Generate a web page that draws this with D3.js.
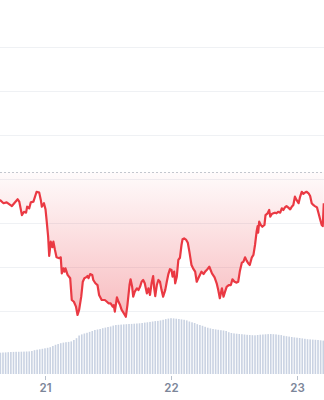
<!DOCTYPE html>
<html>
<head>
<meta charset="utf-8">
<script src="https://cdn.jsdelivr.net/npm/d3@7"></script>
<style>
  body { margin: 0; background: #fff; }
  svg { display: block; }
</style>
</head>
<body>
<script>
// price points, time in hours after midnight on the 21st
var priceHours = [-8.6, -7.9, -7.3, -6.3, -5.7, -5.2, -4.9, -4.4, -4.0, -3.6, -3.4, -3.0, -2.7, -2.2, -1.6, -1.1, -0.8, -0.6, -0.2,
  0.1, 0.3, 0.6, 0.8, 1.1, 1.4, 1.6, 1.9, 2.2, 2.7, 3.0, 3.2, 3.5, 3.7, 3.9, 4.3, 4.8, 5.1, 5.5, 5.9, 6.2, 6.5, 6.9, 7.2, 7.5, 7.8,
  8.1, 8.3, 8.6, 9.0, 9.2, 9.6, 10.0, 10.3, 10.8, 11.4, 11.8, 12.1, 12.5, 12.9, 13.1, 13.3, 13.7, 14.0, 14.3, 14.6, 15.0, 15.4,
  15.7, 16.1, 16.3, 16.6, 16.8, 17.1, 17.5, 17.8, 18.1, 18.4, 18.7, 19.0, 19.4, 19.7, 20.0, 20.3, 20.6, 20.8, 21.0, 21.3, 21.6,
  21.9, 22.2, 22.5, 22.9, 23.2, 23.5, 23.8, 24.1, 24.3, 24.6, 24.8, 25.1, 25.4, 25.7, 26.0, 26.2, 26.5, 26.9, 27.2, 27.5, 27.9,
  28.2, 28.6, 28.9, 29.2, 29.5, 29.8, 30.2, 30.5, 30.8, 31.3, 31.8, 32.3, 32.7, 33.0, 33.3, 33.7, 34.0, 34.3, 34.6, 35.0, 35.4,
  35.7, 36.1, 36.5, 36.8, 37.1, 37.5, 37.8, 38.1, 38.4, 38.7, 39.0, 39.4, 39.7, 40.0, 40.3, 40.5, 40.6, 40.8, 41.1, 41.4, 41.8,
  42.0, 42.4, 42.7, 42.9, 43.2, 43.5, 43.8, 44.1, 44.4, 44.8, 45.1, 45.4, 45.7, 46.0, 46.3, 46.7, 47.0, 47.3, 47.6, 47.9, 48.3,
  48.6, 48.9, 49.2, 49.5, 49.8, 50.2, 50.5, 50.8, 51.1, 51.4, 51.8, 52.1, 52.4, 52.7, 52.9, 53.1];
var prices = [99.05, 98.90, 98.94, 98.77, 98.94, 99.08, 98.97, 98.36, 98.51, 98.47, 98.74, 98.67, 98.94, 98.97, 99.42, 99.38, 99.05, 98.74, 98.90,
  98.62, 98.14, 97.38, 96.50, 97.15, 96.90, 97.15, 96.77, 96.44, 96.40, 96.44, 95.71, 95.94, 95.79, 95.94, 95.64, 95.49, 94.50, 94.42, 94.20, 93.82, 94.05, 94.65, 95.33, 95.49, 95.53,
  95.59, 95.49, 95.68, 95.64, 95.41, 95.26, 95.18, 94.73, 94.50, 94.50, 94.42, 94.35, 94.35, 94.20, 94.27, 93.97, 94.62, 94.42, 94.27, 94.05, 93.90, 93.74,
  94.27, 95.18, 95.44, 95.10, 94.65, 94.88, 95.03, 94.95, 95.10, 95.33, 95.41, 95.26, 94.80, 95.03, 94.73, 95.26, 95.59, 95.03, 94.68, 95.18, 95.41,
  95.33, 94.95, 94.65, 94.95, 95.33, 95.68, 95.90, 95.86, 95.56, 95.79, 95.26, 95.56, 96.32, 96.42, 97.00, 97.26, 97.30, 97.23, 97.10, 96.70, 96.09,
  95.94, 95.79, 95.33, 95.49, 95.64, 95.79, 95.68, 95.79, 95.86, 96.01, 95.71, 95.53, 95.26, 94.95, 94.58, 95.03, 94.65, 94.88, 95.10, 95.18, 95.18,
  95.44, 95.33, 95.29, 95.33, 95.79, 96.20, 96.24, 96.44, 96.29, 96.17, 96.09, 96.44, 96.55, 97.00, 97.60, 97.86, 97.56, 98.06, 97.91, 97.83, 97.91,
  98.36, 98.44, 98.59, 98.29, 98.41, 98.44, 98.47, 98.44, 98.51, 98.47, 98.67, 98.59, 98.71, 98.77, 98.71, 98.62, 98.74, 98.82, 99.20, 99.05, 98.90,
  99.20, 99.42, 99.32, 99.38, 99.42, 99.35, 99.23, 98.90, 98.82, 98.77, 98.71, 98.44, 98.17, 97.91, 97.86, 98.90];
var openPrice = 100.32; // dotted reference line

// volume, one bar every half hour starting at volStartHour
var volStartHour = -8.5;
var volumes = [2.13, 2.15, 2.16, 2.18, 2.20, 2.21, 2.22, 2.22, 2.23, 2.24, 2.25, 2.26, 2.30, 2.38, 2.43, 2.47,
  2.52, 2.57, 2.62, 2.68, 2.80, 2.92, 3.00, 3.08, 3.14, 3.18, 3.21, 3.26, 3.40, 3.58, 3.85, 3.96,
  4.05, 4.12, 4.21, 4.30, 4.40, 4.45, 4.50, 4.58, 4.64, 4.70, 4.75, 4.84, 4.90, 4.92, 4.94, 4.96,
  4.98, 5.00, 5.01, 5.03, 5.05, 5.07, 5.10, 5.14, 5.17, 5.21, 5.25, 5.29, 5.31, 5.36, 5.42, 5.49,
  5.54, 5.58, 5.56, 5.53, 5.50, 5.46, 5.42, 5.36, 5.25, 5.17, 5.10, 4.98, 4.90, 4.82, 4.72, 4.63,
  4.56, 4.50, 4.46, 4.42, 4.38, 4.35, 4.30, 4.18, 4.10, 4.06, 4.03, 4.00, 3.98, 3.95, 3.92, 3.90,
  3.88, 3.87, 3.90, 3.93, 3.95, 3.97, 3.99, 4.00, 3.98, 3.96, 3.92, 3.89, 3.82, 3.78, 3.74, 3.70,
  3.66, 3.63, 3.60, 3.56, 3.52, 3.48, 3.46, 3.44, 3.42, 3.40, 3.37, 3.34];

var priceTicks = [94, 96, 98, 100, 102, 104, 106];
var dayLabels = ["21", "22", "23"];
var viewHours = [-8.57, 53.14]; // visible time window

var width = 324, height = 400;
var day0 = new Date(2024, 2, 21);
function atHour(h) { return new Date(day0.getTime() + h * 3600e3); }

var x = d3.scaleTime()
    .domain(viewHours.map(atHour))
    .range([0, width]);

var y = d3.scaleLinear()
    .domain([94, 106])
    .range([311, 47]);

var yVol = d3.scaleLinear()
    .domain([0, 6])
    .range([374, 314]);

var svg = d3.select("body").append("svg")
    .attr("width", width)
    .attr("height", height);

// gradient for the red area, stronger further from the open line
var grad = svg.append("defs").append("linearGradient")
    .attr("id", "redFill")
    .attr("gradientUnits", "userSpaceOnUse")
    .attr("x1", 0).attr("x2", 0)
    .attr("y1", y(openPrice)).attr("y2", y(93.8));
grad.append("stop").attr("offset", 0).attr("stop-color", "#ea3943").attr("stop-opacity", 0.02);
grad.append("stop").attr("offset", 1).attr("stop-color", "#ea3943").attr("stop-opacity", 0.34);

// grid
svg.append("g").selectAll("line").data(priceTicks).enter().append("line")
    .attr("x1", 0).attr("x2", width)
    .attr("y1", function(d) { return Math.round(y(d)) + 0.5; })
    .attr("y2", function(d) { return Math.round(y(d)) + 0.5; })
    .attr("stroke", "#eff1f4");

// volume bars
var volData = volumes.map(function(v, i) { return { t: atHour(volStartHour + i * 0.5), v: v }; });
svg.append("g").selectAll("rect").data(volData).enter().append("rect")
    .attr("x", function(d) { return x(d.t) - 0.8; })
    .attr("width", 1.6)
    .attr("y", function(d) { return yVol(d.v); })
    .attr("height", function(d) { return yVol(0) - yVol(d.v); })
    .attr("fill", "#c9d2e2");

var pts = priceHours.map(function(h, i) { return { t: atHour(h), p: prices[i] }; });

var area = d3.area()
    .x(function(d) { return x(d.t); })
    .y0(y(openPrice))
    .y1(function(d) { return y(d.p); });

svg.append("path").datum(pts)
    .attr("d", area)
    .attr("fill", "url(#redFill)");

// dotted open price line
svg.append("line")
    .attr("x1", 0).attr("x2", width)
    .attr("y1", Math.round(y(openPrice)) + 0.5).attr("y2", Math.round(y(openPrice)) + 0.5)
    .attr("stroke", "#c3c7ce")
    .attr("stroke-dasharray", "2,2");

var line = d3.line()
    .x(function(d) { return x(d.t); })
    .y(function(d) { return y(d.p); });

svg.append("path").datum(pts)
    .attr("d", line)
    .attr("fill", "none")
    .attr("stroke", "#ea3943")
    .attr("stroke-width", 2.2)
    .attr("stroke-linejoin", "round");

// x axis, one tick per day
var xAxis = d3.axisBottom(x)
    .tickValues(dayLabels.map(function(d) { return new Date(2024, 2, +d); }))
    .tickFormat(d3.timeFormat("%-d"))
    .tickSize(4)
    .tickPadding(4);

var gx = svg.append("g")
    .attr("transform", "translate(0,376)")
    .call(xAxis);
gx.select(".domain").remove();
gx.selectAll("line").attr("stroke", "#b8c0cc");
gx.selectAll("text")
    .attr("fill", "#7c8699")
    .style("font-family", "Inter, sans-serif")
    .style("font-size", "11.5px")
    .style("font-weight", 600);
</script>
</body>
</html>
